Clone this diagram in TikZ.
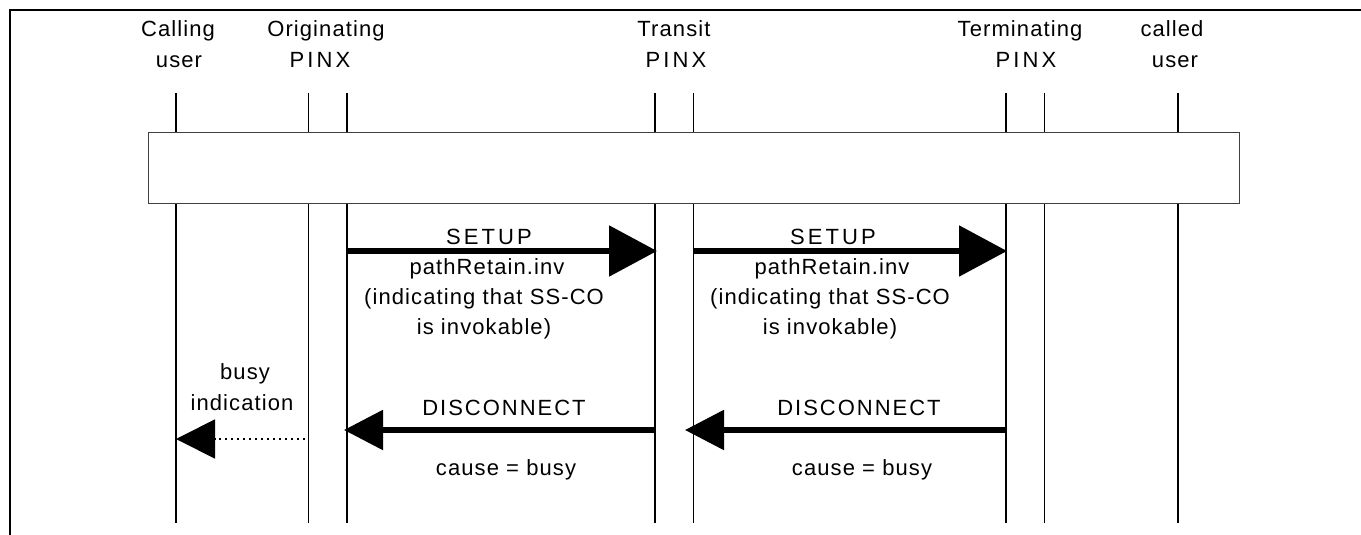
\documentclass[tikz,border=0pt]{standalone}
\usepackage{fontspec}
\setmainfont[LetterSpace=5]{Liberation Sans}
\newfontfamily\widefnt[LetterSpace=14]{Liberation Sans}
\newfontfamily\midfnt[LetterSpace=9]{Liberation Sans}
\usetikzlibrary{arrows.meta}
\begin{document}
\begin{tikzpicture}[x=1pt,y=-1pt,
  lbl/.style={font=\fontsize{22}{22}\selectfont, inner sep=0pt, anchor=base},
  thickline/.style={line width=2pt},
  thinline/.style={line width=1pt},
  frameline/.style={line width=2.5pt},
  msg/.style={line width=5.5pt, -{Triangle[length=48pt,width=50pt]}},
  msgback/.style={line width=5.5pt, -{Triangle[length=39pt,width=39pt]}},
  dotmsg/.style={line width=1.8pt, dash pattern=on 1.8pt off 4.2pt, -{Triangle[length=39pt,width=39pt]}},
  boxstyle/.style={draw=black!75, line width=1pt, fill=white, inner sep=0pt, anchor=north west}
]
\useasboundingbox (0,0) rectangle (1361,535);
% frame
\coordinate (fbl) at (10,535);
\coordinate (ftl) at (10,10);
\coordinate (ftr) at (1361,10);
\draw[frameline] (fbl) -- (ftl) -- (ftr);
% lifelines
\foreach \n/\x/\s in {cu/176/thickline, opa/308/thinline, opb/347/thickline, tra/655/thickline, trb/693/thinline, tea/1006/thickline, teb/1044/thinline, cd/1178/thickline}{
  \coordinate (\n t) at (\x,93);
  \coordinate (\n b) at (\x,523);
  \draw[\s] (\n t) -- (\n b);
}
% box
\node[boxstyle, minimum width=1091pt, minimum height=71pt] (box) at (148,132) {};
% headers
\node[lbl] (h1a) at (178,37) {Calling};
\node[lbl] (h1b) at (179,68) {user};
\node[lbl] (h2a) at (326,37) {Originating};
\node[lbl] (h2b) at (320,68) {\widefnt PINX};
\node[lbl] (h3a) at (674,37) {Transit};
\node[lbl] (h3b) at (676,68) {\widefnt PINX};
\node[lbl] (h4a) at (1020,37) {Terminating};
\node[lbl] (h4b) at (1026,68) {\widefnt PINX};
\node[lbl] (h5a) at (1172,37) {called};
\node[lbl] (h5b) at (1175,68) {user};
% SETUP 1
\coordinate (s1a) at (347,251);
\coordinate (s1b) at (657,251);
\draw[msg] (s1a) -- (s1b);
\node[lbl] (t1a) at (489,244) {\widefnt SETUP};
\node[lbl] (t1b) at (487,274) {pathRetain.inv};
\node[lbl] (t1c) at (484,304) {(indicating that SS-CO};
\node[lbl] (t1d) at (484,334) {is invokable)};
% SETUP 2
\coordinate (s2a) at (693,251);
\coordinate (s2b) at (1007,251);
\draw[msg] (s2a) -- (s2b);
\node[lbl] (t2a) at (833,244) {\widefnt SETUP};
\node[lbl] (t2b) at (832,274) {pathRetain.inv};
\node[lbl] (t2c) at (830,304) {(indicating that SS-CO};
\node[lbl] (t2d) at (830,334) {is invokable)};
% DISCONNECT 2
\coordinate (d2a) at (1006,430);
\coordinate (d2b) at (685,430);
\draw[msgback] (d2a) -- (d2b);
\node[lbl] (u2a) at (859,415) {\midfnt DISCONNECT};
\node[lbl] (u2b) at (862,475) {cause = busy};
% DISCONNECT 1
\coordinate (d1a) at (655,430);
\coordinate (d1b) at (344,430);
\draw[msgback] (d1a) -- (d1b);
\node[lbl] (u1a) at (504,415) {\midfnt DISCONNECT};
\node[lbl] (u1b) at (506,475) {cause = busy};
% busy indication
\coordinate (b1a) at (305,439);
\coordinate (b1b) at (176,439);
\draw[dotmsg] (b1a) -- (b1b);
\node[lbl] (v1a) at (245,379) {busy};
\node[lbl] (v1b) at (242,410) {indication};
\end{tikzpicture}
\end{document}
